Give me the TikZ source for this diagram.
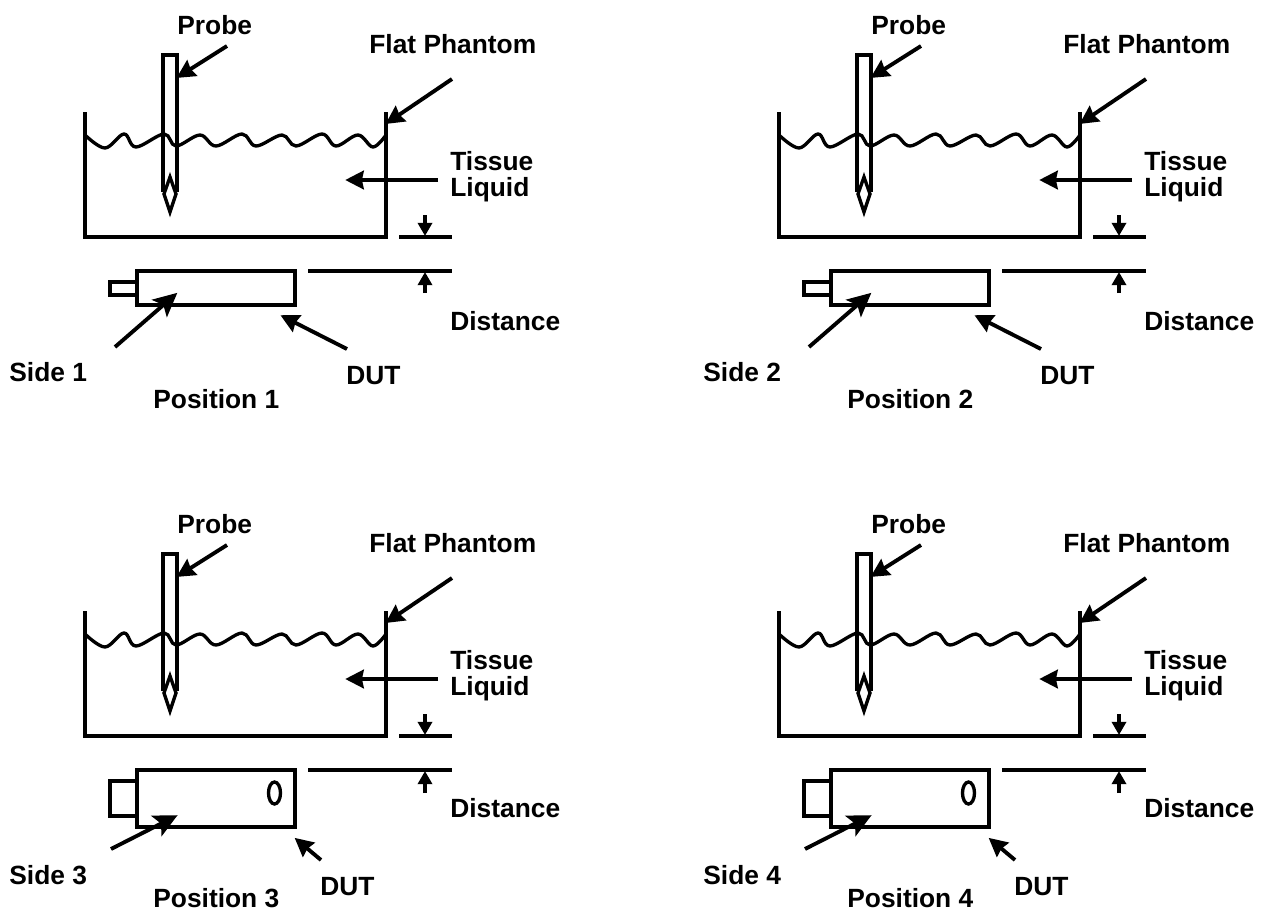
\documentclass[tikz,border=0pt]{standalone}
\usepackage{fontspec}
\setmainfont{Liberation Sans}
\usepackage{tikz}
\usetikzlibrary{arrows.meta}
\tikzset{
  wall/.style={line width=1.9pt},
  pointer/.style={line width=2.2pt,-{Stealth[length=10.5pt,width=10.5pt,inset=1pt]},shorten >=-1pt},
  sidepointer/.style={line width=2.2pt,-{Stealth[length=13.5pt,width=13pt,inset=3pt]},shorten >=-1pt},
  smallpointer/.style={line width=2pt,-{Triangle[length=7.5pt,width=8pt]}},
  tag/.style={anchor=base west,inner sep=0pt,font=\fontsize{15}{18}\selectfont\bfseries}
}

\begin{document}
\begin{tikzpicture}[x=0.02cm,y=-0.02cm]
\useasboundingbox (0,0) rectangle (1269,910);

% the parts every position has
\foreach \n/\dx/\dy in {1/0/0,2/694/0,3/0/499,4/694/499}{
\begin{scope}[shift={(\dx,\dy)}]
\draw[wall] (85,112) -- (85,237) -- (386,237) -- (386,112);
\draw[wall] (163,192) -- (163,55) -- (177,55) -- (177,192);
\draw[wall] (170,177) -- (164,194) -- (170,212) -- (176,194) -- cycle;
\draw[wall] plot[smooth,tension=0.6] coordinates {(85,135) (105,148) (124,134) (136,147) (164,134) (176,146) (200,135) (216,146) (242,134) (256,146) (282,135) (296,146) (322,134) (336,146) (358,135) (373,147) (386,135)};
\draw[wall] (399,237) -- (452,237);
\draw[wall] (308,271) -- (452,271);

\node[tag] (probe\n) at (177,34) {Probe};
\node[tag] (phantom\n) at (369,53) {Flat Phantom};
\node[tag] (tissue\n) at (450,170) {Tissue};
\node[tag] (liquid\n) at (450,196) {Liquid};

\coordinate (a\n) at (227,46);
\coordinate (b\n) at (452,79);
\coordinate (c\n) at (438,180);
\coordinate (d\n) at (425,215);
\draw[pointer] (a\n) -- (178,77);
\draw[pointer] (b\n) -- (387,123);
\draw[pointer] (c\n) -- (347,180);
\draw[smallpointer] (d\n) -- (425,236);
\end{scope}
}

% top row, narrow side of the DUT
\foreach \n/\dx in {1/0,2/694}{
\begin{scope}[shift={(\dx,0)}]
\draw[wall] (137,271) rectangle (295,305);
\draw[wall] (137,282) -- (110,282) -- (110,295) -- (137,295);
\draw[smallpointer] (425,293) -- (425,272);
\node[tag] (dist\n) at (450,330) {Distance};
\node[tag] (side\n) at (9,381) {Side \n};
\node[tag] (dut\n) at (346,384) {DUT};
\node[tag] (pos\n) at (153,408) {Position \n};
\coordinate (e\n) at (115,347);
\coordinate (f\n) at (347,349);
\draw[sidepointer] (e\n) -- (176,294);
\draw[pointer] (f\n) -- (282,316);
\end{scope}
}

% bottom row, wide side of the DUT
\foreach \n/\dx in {3/0,4/694}{
\begin{scope}[shift={(\dx,0)}]
\draw[wall] (137,770) rectangle (295,827);
\draw[wall] (137,781) -- (110,781) -- (110,816) -- (137,816);
\draw[wall] (274.5,793) ellipse (6 and 11);
\draw[smallpointer] (425,793) -- (425,771);
\node[tag] (dist\n) at (450,817) {Distance};
\node[tag] (side\n) at (9,884) {Side \n};
\node[tag] (dut\n) at (320,895) {DUT};
\node[tag] (pos\n) at (153,907) {Position \n};
\coordinate (e\n) at (111,849);
\coordinate (f\n) at (321,860);
\draw[sidepointer] (e\n) -- (176,816);
\draw[pointer] (f\n) -- (296,839);
\end{scope}
}
\end{tikzpicture}
\end{document}
